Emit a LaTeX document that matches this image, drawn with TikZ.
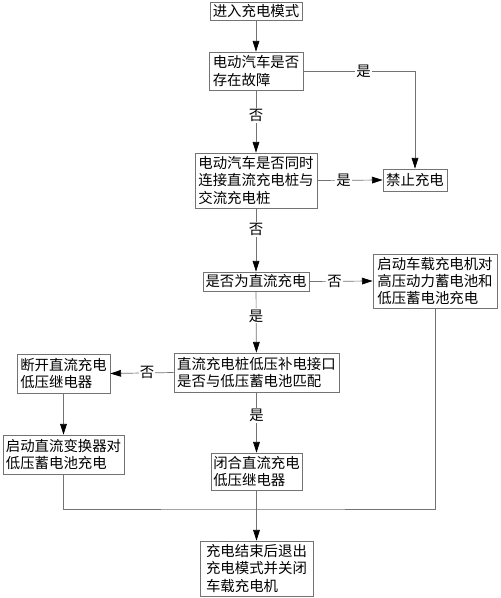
\documentclass[tikz,border=0pt]{standalone}
\usepackage{fontspec}
\setmainfont{Noto Sans CJK SC}
\usepackage{tikz}
\usetikzlibrary{arrows.meta}
\def\boxfont{\fontsize{12.3}{14.9}\selectfont}

\begin{document}
\begin{tikzpicture}[x=0.03cm, y=-0.03cm,
	stepbox/.style={draw=black!55, line width=0.6pt, inner sep=1.5pt, align=left, font=\boxfont},
	flow/.style={draw=black!55, line width=0.6pt, -{Triangle[length=0.32cm,width=0.2cm,black]}},
	mergeline/.style={draw=black!55, line width=0.6pt},
	answer/.style={fill=white, inner sep=1pt, font=\boxfont}]
		%%%%% START %%%%%
		\useasboundingbox (0, 0) rectangle (500, 598);
		
		\node[stepbox, minimum width=92*0.03cm, minimum height=18*0.03cm] (enter) at (256, 11) {进入充电模式};
		\node[stepbox, minimum width=94*0.03cm, minimum height=38*0.03cm] (fault) at (256, 71) {电动汽车是否\\存在故障};
		\node[stepbox, minimum width=122*0.03cm, minimum height=55*0.03cm] (both) at (256, 180.5) {电动汽车是否同时\\连接直流充电桩与\\交流充电桩};
		\node[stepbox, minimum width=64*0.03cm, minimum height=22*0.03cm] (ban) at (415, 180) {禁止充电};
		\node[stepbox, minimum width=106*0.03cm, minimum height=19*0.03cm] (dc) at (256, 281.5) {是否为直流充电};
		\node[stepbox, minimum width=124*0.03cm, minimum height=54*0.03cm] (onboard) at (435, 281) {启动车载充电机对\\高压动力蓄电池和\\低压蓄电池充电};
		\node[stepbox, minimum width=165*0.03cm, minimum height=39*0.03cm] (match) at (256.5, 372.5) {直流充电桩低压补电接口\\是否与低压蓄电池匹配};
		\node[stepbox, minimum width=93*0.03cm, minimum height=39*0.03cm] (open) at (63.5, 373.5) {断开直流充电\\低压继电器};
		\node[stepbox, minimum width=121*0.03cm, minimum height=39*0.03cm] (dcdc) at (63.5, 454.5) {启动直流变换器对\\低压蓄电池充电};
		\node[stepbox, minimum width=91*0.03cm, minimum height=37*0.03cm] (close) at (256.5, 471.5) {闭合直流充电\\低压继电器};
		\node[stepbox, minimum width=113*0.03cm, minimum height=55*0.03cm] (finish) at (256.5, 568.5) {充电结束后退出\\充电模式并关闭\\车载充电机};
		
		\coordinate (merge) at (256.5, 509);
		
		\draw[flow] (enter) -- (fault);
		\draw[flow] (fault) -- node[answer, pos=0.4] {否} (both);
		\draw[flow] (fault.east) -| node[answer, pos=0.27] {是} (ban.north);
		\draw[flow] (both.east) -- node[answer, pos=0.4] {是} (ban.west);
		\draw[flow] (both) -- node[answer, pos=0.34] {否} (dc);
		\draw[flow] (dc.east) -- node[answer, pos=0.4] {否} (onboard.west);
		\draw[flow] (dc) -- node[answer, pos=0.4] {是} (match);
		\draw[flow] (match.west) -- node[answer, pos=0.42] {否} (open.east);
		\draw[flow] (match) -- node[answer, pos=0.38] {是} (close);
		\draw[flow] (open) -- (dcdc);
		\draw[mergeline] (dcdc.south) |- (merge) -| (onboard.south);
		\draw[flow] (close) -- (finish);
		%%%%% END %%%%%
	\end{tikzpicture}
\end{document}
